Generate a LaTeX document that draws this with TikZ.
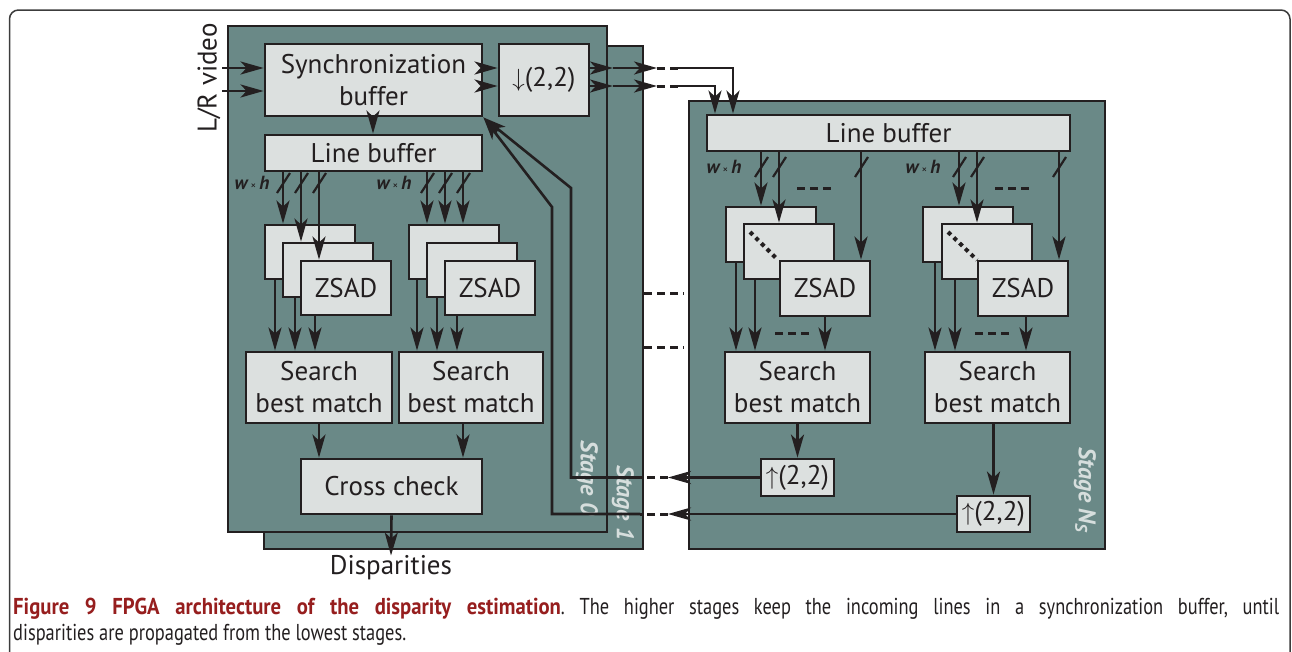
\documentclass[tikz,border=0pt]{standalone}
\usepackage{fontspec}
\setmainfont{PT Sans}
\newfontfamily\capfont[FakeStretch=0.8]{PT Sans}
\newfontfamily\capboldfont[FakeStretch=0.9]{PT Sans}
\usetikzlibrary{arrows.meta,calc}
\definecolor{stagecol}{RGB}{106,137,135}
\definecolor{boxcol}{RGB}{220,224,223}
\definecolor{ink}{RGB}{35,31,32}
\definecolor{stagetxt}{RGB}{214,222,221}
\definecolor{framecol}{RGB}{60,60,60}
\definecolor{capred}{RGB}{150,30,30}
\begin{document}
\begin{tikzpicture}[x=1pt,y=-1pt,line join=miter,
  stagebox/.style={fill=stagecol,draw=ink,line width=2.6pt,inner sep=0pt},
  blk/.style={fill=boxcol,draw=ink,line width=2.8pt,inner sep=0pt,text=ink,
    font=\fontsize{27}{32}\selectfont,align=center},
  arr/.style={draw=ink,line width=2.6pt,-{Stealth[length=23pt,width=13pt,inset=6pt]}},
  ln/.style={draw=ink,line width=2.6pt},
  dsh/.style={draw=ink,line width=3pt,dash pattern=on 8pt off 5pt},
  dotl/.style={draw=ink,line width=4pt,dash pattern=on 4pt off 4pt},
  slash/.style={draw=ink,line width=2.2pt},
  stagelbl/.style={text=stagetxt,font=\fontsize{24}{26}\selectfont\bfseries\itshape,rotate=-90},
  wh/.style={text=ink,font=\fontsize{19}{20}\selectfont\bfseries\itshape,inner sep=0pt},
  plain/.style={text=ink,font=\fontsize{27}{32}\selectfont,inner sep=0pt}]
\useasboundingbox (0,0) rectangle (1292,651);
% outer frame
\draw[framecol,line width=1.5pt,rounded corners=9pt] (9.5,670) -- (9.5,10) -- (1290,10) -- (1290,670);

% stages
\node[stagebox,minimum width=379pt,minimum height=503pt] (st1) at (453.5,297.5) {};
\node[stagebox,minimum width=379pt,minimum height=506pt] (st0) at (417.5,279) {};
\node[stagebox,minimum width=416pt,minimum height=448pt] (stN) at (897,325) {};

% stage 0 blocks
\node[blk,minimum width=217pt,minimum height=72pt] (sync) at (373.5,80) {Synchronization\\buffer};
\node[blk,minimum width=90pt,minimum height=72pt] (down) at (544,80) {\(\downarrow\)(2,2)};
\node[blk,minimum width=217pt,minimum height=36pt] (lbL) at (373.5,153) {Line buffer};
\node[blk,minimum width=90pt,minimum height=54pt] (zL1) at (310,252) {};
\node[blk,minimum width=90pt,minimum height=54pt] (zL2) at (328,270) {};
\node[blk,minimum width=90pt,minimum height=54pt] (zL3) at (346,288) {ZSAD};
\node[blk,minimum width=90pt,minimum height=54pt] (zR1) at (454,252) {};
\node[blk,minimum width=90pt,minimum height=54pt] (zR2) at (472,270) {};
\node[blk,minimum width=90pt,minimum height=54pt] (zR3) at (490,288) {ZSAD};
\node[blk,minimum width=146pt,minimum height=71pt] (sL) at (319,387.5) {Search\\best match};
\node[blk,minimum width=144pt,minimum height=71pt] (sR) at (471,387.5) {Search\\best match};
\node[blk,minimum width=181pt,minimum height=55pt] (cc) at (391.5,486.5) {Cross check};
\node[plain] (disp) at (391,568) {Disparities};
\node[plain,rotate=90] (lr) at (209,78) {L/R video};

% stage N blocks
\node[blk,minimum width=363pt,minimum height=36pt] (lbN) at (888.5,133) {Line buffer};
\node[blk,minimum width=90pt,minimum height=55pt] (nL1) at (771,234.5) {};
\node[blk,minimum width=90pt,minimum height=55pt] (nL2) at (789,251.5) {};
\node[blk,minimum width=90pt,minimum height=55pt] (nL3) at (825,288.5) {ZSAD};
\node[blk,minimum width=90pt,minimum height=55pt] (nR1) at (968,234.5) {};
\node[blk,minimum width=90pt,minimum height=55pt] (nR2) at (987,251.5) {};
\node[blk,minimum width=90pt,minimum height=55pt] (nR3) at (1023,288.5) {ZSAD};
\node[blk,minimum width=145pt,minimum height=71pt] (nsL) at (797.5,387.5) {Search\\best match};
\node[blk,minimum width=145pt,minimum height=71pt] (nsR) at (997.5,387.5) {Search\\best match};
\node[blk,minimum width=73pt,minimum height=37pt] (upL) at (797.5,477.5) {\(\uparrow\)(2,2)};
\node[blk,minimum width=73pt,minimum height=36pt] (upR) at (993.5,514) {\(\uparrow\)(2,2)};

% dotted diagonals
\draw[dotl] (750,232) -- (778,260);
\draw[dotl] (948,232) -- (977,260);

% stage labels
\node[stagelbl] (lab0) at (587,478) {Stage 0};
\node[stagelbl] (lab1) at (623,503) {Stage 1};
\node[stagelbl] (labN) at (1085,490) {Stage N\textsubscript{S}};

% helper coordinates
\coordinate (ya) at (0,68);
\coordinate (yb) at (0,86);
\coordinate (in1) at (222,68);
\coordinate (in2) at (222,91);
\foreach \n/\x in {a1/283,a2/301,a3/319,b1/427,b2/445,b3/463,
                    c1/275,c2/295,c3/315,d1/417,d2/437,d3/457,e1/319,e2/463,
                    f1/761,f2/779,f3/861,g1/959,g2/977,g3/1059,
                    h1/736,h2/755,h3/825,k1/935,k2/955,k3/1026,
                    xs/373,xN1/733,xN2/715}
  {\coordinate (\n) at (\x,0);}

% inputs
\draw[arr] (in1) -- (in1 -| sync.west);
\draw[arr] (in2) -- (in2 -| sync.west);
\draw[arr] (sync.east |- ya) -- (down.west |- ya);
\draw[arr] (sync.east |- yb) -- (down.west |- yb);
\draw[arr] (sync.south -| xs) -- (lbL.north -| xs);

% outputs of downsampler towards stage N
\coordinate (t1a) at (613,68); \coordinate (t1b) at (657,68); \coordinate (t1c) at (678,68);
\coordinate (t2a) at (613,86); \coordinate (t2b) at (657,86); \coordinate (t2c) at (678,86);
\draw[arr] (down.east |- ya) -- (t1a);
\draw[arr] (t1a) -- (t1b);
\draw[dsh] (t1b) -- (t1c);
\draw[arr] (t1c) -| (lbN.north -| xN1);
\draw[arr] (down.east |- yb) -- (t2a);
\draw[arr] (t2a) -- (t2b);
\draw[dsh] (t2b) -- (t2c);
\draw[arr] (t2c) -| (lbN.north -| xN2);

% stage 0 taps
\draw[arr] (lbL.south -| a1) -- (zL1.north -| a1);
\draw[arr] (lbL.south -| a2) -- (zL2.north -| a2);
\draw[arr] (lbL.south -| a3) -- (zL3.north -| a3);
\draw[arr] (lbL.south -| b1) -- (zR1.north -| b1);
\draw[arr] (lbL.south -| b2) -- (zR1.north -| b2);
\draw[arr] (lbL.south -| b3) -- (zR1.north -| b3);
\foreach \x in {283,301,319,427,445,463} \draw[slash] (\x-6,193) -- (\x+7,173);
\node[wh] (wh1) at (252,183) {w\,{\fontsize{11}{11}\selectfont\upshape\mdseries ×}\,h};
\node[wh] (wh2) at (394,183) {w\,{\fontsize{11}{11}\selectfont\upshape\mdseries ×}\,h};

\draw[arr] (zL1.south -| c1) -- (sL.north -| c1);
\draw[arr] (zL2.south -| c2) -- (sL.north -| c2);
\draw[arr] (zL3.south -| c3) -- (sL.north -| c3);
\draw[arr] (zR1.south -| d1) -- (sR.north -| d1);
\draw[arr] (zR2.south -| d2) -- (sR.north -| d2);
\draw[arr] (zR3.south -| d3) -- (sR.north -| d3);
\draw[arr] (sL.south -| e1) -- (cc.north -| e1);
\draw[arr] (sR.south -| e2) -- (cc.north -| e2);
\draw[arr] (cc.south) -- (disp.north);

% stage N taps
\draw[arr] (lbN.south -| f1) -- (nL1.north -| f1);
\draw[arr] (lbN.south -| f2) -- (nL2.north -| f2);
\draw[arr] (lbN.south -| f3) -- (nL3.north -| f3);
\draw[arr] (lbN.south -| g1) -- (nR1.north -| g1);
\draw[arr] (lbN.south -| g2) -- (nR2.north -| g2);
\draw[arr] (lbN.south -| g3) -- (nR3.north -| g3);
\foreach \x in {761,779,861,959,977,1059} \draw[slash] (\x-6,177) -- (\x+7,157);
\node[wh] (wh3) at (724,167) {w\,{\fontsize{11}{11}\selectfont\upshape\mdseries ×}\,h};
\node[wh] (wh4) at (923,167) {w\,{\fontsize{11}{11}\selectfont\upshape\mdseries ×}\,h};
\draw[dsh] (797,188) -- (835,188);
\draw[dsh] (995,188) -- (1033,188);

\draw[arr] (nL1.south -| h1) -- (nsL.north -| h1);
\draw[arr] (nL2.south -| h2) -- (nsL.north -| h2);
\draw[arr] (nL3.south -| h3) -- (nsL.north -| h3);
\draw[arr] (nR1.south -| k1) -- (nsR.north -| k1);
\draw[arr] (nR2.south -| k2) -- (nsR.north -| k2);
\draw[arr] (nR3.south -| k3) -- (nsR.north -| k3);
\draw[dsh] (775,333) -- (813,333);
\draw[dsh] (975,333) -- (1013,333);
\draw[arr] (nsL.south) -- (upL.north);
\draw[arr] (nsR.south -| upR.north) -- (upR.north);

% middle dashed links
\draw[dsh] (st1.east |- 0,293) -- (684,293);
\draw[dsh] (st1.east |- 0,347) -- (684,347);

% feedback paths
\coordinate (fa1) at (668,477.5); \coordinate (fa2) at (640,477.5);
\coordinate (fa3) at (571,477.5); \coordinate (fa4) at (571,188);
\coordinate (fb1) at (668,514); \coordinate (fb2) at (640,514);
\coordinate (fb3) at (552,514); \coordinate (fb4) at (552,207);
\draw[arr] (upL.west) -- (fa1);
\draw[dsh] (fa1) -- (fa2);
\draw[arr] (fa2) -- (fa3) -- (fa4) -- (sync.south east);
\draw[arr] (upR.west) -- (fb1);
\draw[dsh] (fb1) -- (fb2);
\draw[arr] (fb2) -- (fb3) -- (fb4) -- (sync.south east);

% caption
\node[anchor=north west,inner sep=0pt,text width=1266pt,align=justify,
      font=\capfont\fontsize{23}{26}\selectfont,text=ink] (cap) at (13,598)
 {\frenchspacing{\capboldfont\bfseries\color{capred}Figure 9 FPGA architecture of the disparity estimation}. The higher stages keep the incoming lines in a synchronization buffer, until\linebreak disparities are propagated from the lowest stages.};
\end{tikzpicture}
\end{document}
